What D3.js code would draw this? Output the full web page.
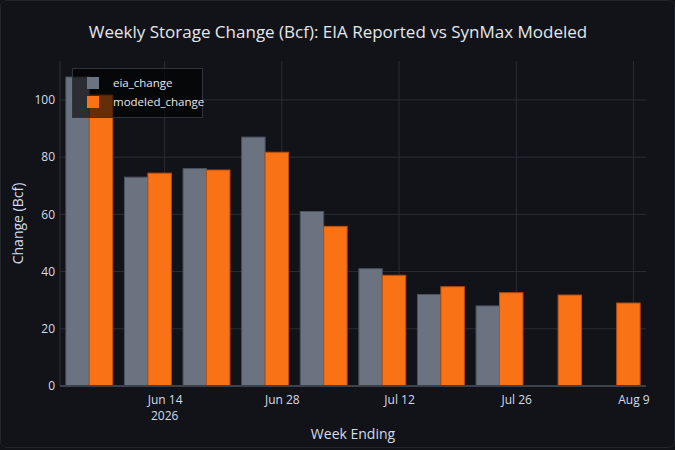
<!DOCTYPE html>
<html>
<head>
<meta charset="utf-8">
<script src="https://cdn.jsdelivr.net/npm/d3@7"></script>
<style>
  html, body { margin: 0; padding: 0; background: #111318; }
  text { font-family: "Open Sans", sans-serif; }
</style>
</head>
<body>
<div id="chart"></div>
<script>
// week ending dates (Fridays)
const weeks = ['2026-06-05', '2026-06-12', '2026-06-19', '2026-06-26', '2026-07-03',
  '2026-07-10', '2026-07-17', '2026-07-24', '2026-07-31', '2026-08-07']
const eiaChange = [108, 73, 76, 87, 61, 41, 32, 28, null, null]
const modeledChange = [101.7, 74.4, 75.5, 81.7, 55.8, 38.7, 34.7, 32.6, 31.8, 29]
const yTicks = [0, 20, 40, 60, 80, 100]
const xTicks = ['2026-06-14', '2026-06-28', '2026-07-12', '2026-07-26', '2026-08-09']

const series = [
  { name: 'eia_change', values: eiaChange, color: '#6b7280', line: '#4b5260' },
  { name: 'modeled_change', values: modeledChange, color: '#f97316', line: '#b8500f' }
]

function draw() {
  const parse = d3.utcParse('%Y-%m-%d')
  const day = 864e5

  let dimensions = {
    width: 675,
    height: 450,
    left: 60,
    right: 646,
    top: 61,
    bottom: 386
  }

  const svg = d3.select('#chart')
    .append('svg')
    .attr('width', dimensions.width)
    .attr('height', dimensions.height)

  svg.append('rect')
    .attr('x', 0.5).attr('y', 0.5)
    .attr('width', dimensions.width - 1).attr('height', dimensions.height - 3)
    .attr('rx', 6)
    .attr('fill', '#111318')
    .attr('stroke', '#22252c')

  const dates = weeks.map(parse)

  //scales
  const xScale = d3.scaleUtc()
    .domain([new Date(+dates[0] - 3.5 * day), new Date(+dates[dates.length - 1] + 3.5 * day)])
    .range([dimensions.left, dimensions.right])

  const yScale = d3.scaleLinear()
    .domain([0, 113.6])
    .range([dimensions.bottom, dimensions.top])

  //grid
  const grid = svg.append('g')
  grid.selectAll('.hgrid')
    .data(yTicks.slice(1))
    .join('line')
    .attr('x1', dimensions.left).attr('x2', dimensions.right)
    .attr('y1', d => yScale(d)).attr('y2', d => yScale(d))
    .attr('stroke', '#2a2d35')
  grid.selectAll('.vgrid')
    .data(xTicks.map(parse))
    .join('line')
    .attr('class', 'vgrid')
    .attr('x1', d => xScale(d)).attr('x2', d => xScale(d))
    .attr('y1', dimensions.top).attr('y2', dimensions.bottom)
    .attr('stroke', '#2a2d35')
  grid.append('line')
    .attr('x1', dimensions.left).attr('x2', dimensions.left)
    .attr('y1', dimensions.top).attr('y2', dimensions.bottom)
    .attr('stroke', '#2f333b')

  //bars
  const groupWidth = 7 * day * 0.8
  const barWidth = xScale(new Date(+dates[0] + groupWidth / 2)) - xScale(dates[0])
  const barsGroup = svg.append('g')
  series.forEach((s, i) => {
    const rows = dates.map((d, j) => ({ date: d, value: s.values[j] })).filter(r => r.value != null)
    barsGroup.selectAll('.bar-' + i)
      .data(rows)
      .join('rect')
      .attr('x', d => xScale(d.date) - barWidth + i * barWidth)
      .attr('y', d => yScale(d.value))
      .attr('width', barWidth)
      .attr('height', d => yScale(0) - yScale(d.value))
      .attr('fill', s.color)
      .attr('stroke', s.line)
      .attr('stroke-width', 1)
  })

  //zero line
  svg.append('line')
    .attr('x1', dimensions.left).attr('x2', dimensions.right)
    .attr('y1', yScale(0)).attr('y2', yScale(0))
    .attr('stroke', '#3c414c')
    .attr('stroke-width', 2)

  //axes
  const yAxis = d3.axisLeft(yScale).tickValues(yTicks).tickSize(0).tickPadding(4)
  svg.append('g')
    .attr('transform', `translate(${dimensions.left - 1},0)`)
    .call(yAxis)
    .call(g => g.select('.domain').remove())
    .selectAll('text')
    .attr('fill', '#d4dcea')
    .attr('font-size', 12)

  const xAxis = d3.axisBottom(xScale)
    .tickValues(xTicks.map(parse))
    .tickSize(0)
    .tickPadding(9)
    .tickFormat(d3.utcFormat('%b %-d'))
  const xg = svg.append('g')
    .attr('transform', `translate(0,${dimensions.bottom})`)
    .call(xAxis)
  xg.select('.domain').remove()
  xg.selectAll('text')
    .attr('fill', '#d4dcea')
    .attr('font-size', 12)
  svg.append('text')
    .attr('x', xScale(parse(xTicks[0])))
    .attr('y', 420)
    .attr('text-anchor', 'middle')
    .attr('fill', '#d4dcea')
    .attr('font-size', 12)
    .text('2026')

  //titles
  svg.append('text')
    .attr('x', 338).attr('y', 38)
    .attr('text-anchor', 'middle')
    .attr('fill', '#e5e7eb')
    .attr('font-size', 17)
    .text('Weekly Storage Change (Bcf): EIA Reported vs SynMax Modeled')

  svg.append('text')
    .attr('x', 353).attr('y', 439)
    .attr('text-anchor', 'middle')
    .attr('fill', '#d4dcea')
    .attr('font-size', 14)
    .text('Week Ending')

  svg.append('text')
    .attr('transform', `translate(23,${(dimensions.top + dimensions.bottom) / 2}) rotate(-90)`)
    .attr('text-anchor', 'middle')
    .attr('fill', '#d4dcea')
    .attr('font-size', 14)
    .text('Change (Bcf)')

  //legend
  const legend = svg.append('g')
  legend.append('rect')
    .attr('x', 72.5).attr('y', 68.5)
    .attr('width', 130).attr('height', 49)
    .attr('fill', 'rgba(0,0,0,0.6)')
    .attr('stroke', '#2f333b')
  const items = legend.selectAll('.item')
    .data(series)
    .join('g')
    .attr('transform', (d, i) => `translate(0,${83 + i * 19})`)
  items.append('rect')
    .attr('x', 87).attr('y', -6)
    .attr('width', 12).attr('height', 12)
    .attr('fill', d => d.color)
  items.append('text')
    .attr('x', 113).attr('y', 4)
    .attr('fill', '#e5e7eb')
    .attr('font-size', 11.5)
    .text(d => d.name)
}

draw()
</script>
</body>
</html>
